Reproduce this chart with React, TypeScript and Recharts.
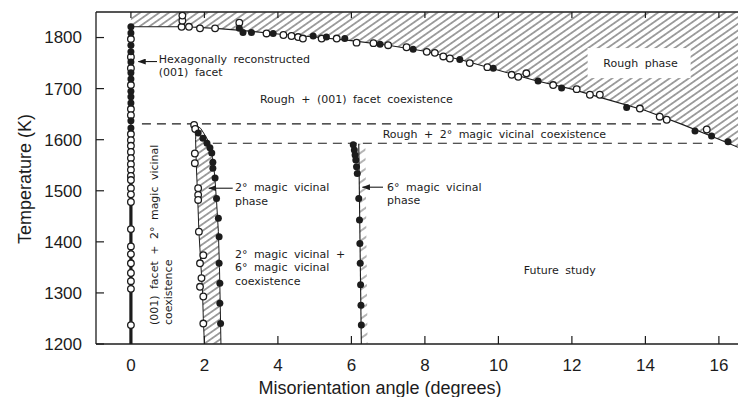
import React from 'react';
import { ScatterChart, Scatter, XAxis, YAxis, ReferenceLine, ReferenceDot } from 'recharts';

const W = 738;
const H = 397;
const TOP = 12;
const X_AXIS_H = 53;
const Y_AXIS_W = 96;
const PLOT_H = H - TOP - X_AXIS_H;
const INK = '#1c1c1c';
const NUM_FONT = '"Liberation Sans", Arial, sans-serif';
const NOTE_FONT = '"DejaVu Sans", sans-serif';

const xTicks = [0, 2, 4, 6, 8, 10, 12, 14, 16];
const tTicks = [1200, 1300, 1400, 1500, 1600, 1700, 1800];

// (001) facet column at 0 degrees
const facetOpenT = [1797, 1762, 1740, 1707, 1660, 1648, 1611, 1599, 1588, 1576, 1564, 1552, 1541, 1529,
  1521, 1505, 1493, 1478, 1425, 1391, 1376, 1358, 1339, 1323, 1308, 1237];
const facetFilledT = [1821, 1809, 1785, 1772, 1752, 1731, 1719, 1695, 1684, 1672, 1637, 1623];

// roughening transition points [angle, T]
const roughOpen = [[1.38, 1821], [1.4, 1833], [1.4, 1843], [1.58, 1821], [1.88, 1818], [2.29, 1818], [2.95, 1829],
  [3.69, 1808], [4.15, 1805], [4.37, 1803], [4.55, 1801], [4.68, 1798], [5.19, 1798], [5.6, 1798], [6.14, 1790],
  [6.6, 1789], [7.0, 1785], [7.5, 1781], [8.05, 1772], [8.27, 1770], [8.5, 1763], [8.68, 1759], [9.22, 1750],
  [9.7, 1742], [10.36, 1727], [10.54, 1723], [10.76, 1730], [11.49, 1707], [12.13, 1699], [12.49, 1688],
  [12.76, 1688], [13.85, 1661], [14.39, 1645], [14.58, 1639], [15.67, 1620]];
const roughFilled = [[2.95, 1818], [3.05, 1810], [3.28, 1810], [3.87, 1808], [4.96, 1803], [5.32, 1801], [5.82, 1798],
  [6.78, 1787], [7.68, 1777], [8.95, 1757], [9.86, 1740], [11.08, 1715], [11.72, 1701], [13.49, 1663],
  [15.35, 1617], [15.8, 1607], [16.25, 1596]];
const roughCurve = [[0, 1821], [1.5, 1821], [2.3, 1818], [3, 1814], [4, 1807], [5, 1801], [6, 1794], [7, 1785],
  [8, 1773], [9, 1756], [10, 1736], [11, 1716], [12, 1699], [13, 1678], [14, 1657], [15, 1630], [16, 1601],
  [16.52, 1585]];

// 2 degree magic vicinal
const vic2Open = [[1.72, 1629], [1.75, 1621], [1.74, 1573], [1.74, 1554], [1.83, 1505], [1.83, 1492], [1.83, 1482],
  [1.85, 1420], [1.97, 1374], [1.88, 1358], [1.92, 1329], [1.88, 1312], [1.97, 1293], [1.97, 1240]];
const vic2Filled = [[1.83, 1613], [1.96, 1603], [2.07, 1593], [2.15, 1584], [2.2, 1574], [2.23, 1556], [2.23, 1544],
  [2.29, 1525], [2.33, 1485], [2.38, 1446], [2.4, 1410], [2.4, 1358], [2.42, 1319], [2.42, 1280], [2.44, 1240]];
const vic2Band = [[2.0, 1200], [1.97, 1250], [1.95, 1300], [1.9, 1360], [1.85, 1420], [1.82, 1480], [1.78, 1550],
  [1.76, 1600], [1.78, 1628], [1.9, 1622], [2.05, 1605], [2.15, 1590], [2.22, 1565], [2.28, 1530], [2.33, 1480],
  [2.38, 1420], [2.41, 1350], [2.43, 1280], [2.45, 1200]];

// 6 degree magic vicinal
const vic6Filled = [[6.05, 1590], [6.08, 1580], [6.1, 1570], [6.12, 1560], [6.14, 1547], [6.16, 1534], [6.2, 1485],
  [6.22, 1443], [6.23, 1397], [6.24, 1358], [6.25, 1316], [6.26, 1276], [6.27, 1237]];
const vic6Edge = [[6.27, 1200], [6.2, 1592]];
const vic6Band = [[6.27, 1200], [6.2, 1592], [6.38, 1592], [6.44, 1200]];

// dashed coexistence limits [x1, x2, T]
const dashed = [[0.3, 14.5, 1631], [2.23, 15.84, 1593]];

const toPts = (a: number[][]) => a.map(([x, t]) => ({ x, t }));
const roughRegion = toPts([[0, 1850], ...roughCurve, [16.52, 1850]]);

const notes = [
  { x: 0.76, t: 1757, lines: ['Hexagonally reconstructed', '(001) facet'], gap: 12.5 },
  { x: 3.51, t: 1680, lines: ['Rough + (001) facet coexistence'] },
  { x: 6.85, t: 1611, lines: ['Rough + 2\u00b0 magic vicinal coexistence'] },
  { x: 13.87, t: 1750, lines: ['Rough phase'], anchor: 'middle', box: [-53, -15, 103, 30] },
  { x: 2.83, t: 1507, lines: ['2\u00b0 magic vicinal', 'phase'] },
  { x: 2.83, t: 1376, lines: ['2\u00b0 magic vicinal +', '6\u00b0 magic vicinal', 'coexistence'] },
  { x: 6.97, t: 1508, lines: ['6\u00b0 magic vicinal', 'phase'] },
  { x: 11.67, t: 1345, lines: ['Future study'], anchor: 'middle' },
  { x: 0.62, t: 1237, lines: ['(001) facet + 2\u00b0 magic vicinal', 'coexistence'], rotate: -90, gap: 14 },
];
const arrows = [[0.71, 0.2, 1753], [2.77, 2.12, 1505], [6.86, 6.3, 1507]];

const noDot = () => <g />;
const openDot = (p: any) => <circle cx={p.cx} cy={p.cy} r={3.3} fill="#fff" stroke={INK} strokeWidth={1.3} />;
const filledDot = (p: any) => <circle cx={p.cx} cy={p.cy} r={3.5} fill={INK} />;

function Note({ cx = 0, cy = 0, lines, anchor = 'start', rotate = 0, gap = 13.5, box }: any) {
  return (
    <g transform={rotate ? `rotate(${rotate} ${cx} ${cy})` : undefined}>
      {box && <rect x={cx + box[0]} y={cy + box[1]} width={box[2]} height={box[3]} fill="#fff" />}
      {lines.map((s: string, i: number) => (
        <text key={i} x={cx} y={cy + i * gap} dy="0.35em" textAnchor={anchor} fontFamily={NOTE_FONT}
          fontSize={11} wordSpacing={3} fill={INK}>{s}</text>
      ))}
    </g>
  );
}

const X_MARGIN = 21;
function XTick(props: any) {
  const { x, y, payload } = props;
  const axisY = y - X_MARGIN;
  return (
    <g>
      <line x1={x} x2={x} y1={axisY} y2={axisY - 8} stroke={INK} strokeWidth={1.2} />
      <line x1={x} x2={x} y1={axisY - PLOT_H} y2={axisY - PLOT_H + 6} stroke={INK} strokeWidth={1.2} />
      <text x={x} y={y} dy="0.35em" textAnchor="middle" fontFamily={NUM_FONT} fontSize={17} fill={INK}>
        {payload.value}
      </text>
    </g>
  );
}

const Y_MARGIN = 14;
function YTick(props: any) {
  const { x, y, payload } = props;
  const axisX = x + Y_MARGIN;
  return (
    <g>
      <line x1={axisX} x2={axisX + 8} y1={y} y2={y} stroke={INK} strokeWidth={1.2} />
      <text x={x} y={y} dy="0.35em" textAnchor="end" fontFamily={NUM_FONT} fontSize={17} fill={INK}>
        {payload.value}
      </text>
    </g>
  );
}

export default function App() {
  return (
    <div style={{ position: 'absolute', left: 0, top: 0, width: W, height: H, background: '#fff' }}>
      <ScatterChart width={W} height={H} margin={{ top: TOP, right: 0, bottom: 0, left: 0 }}>
        <defs>
          <pattern id="hatch" patternUnits="userSpaceOnUse" width="5.5" height="5.5" patternTransform="rotate(55)">
            <line x1="2.75" y1="0" x2="2.75" y2="5.5" stroke="#333" strokeWidth="0.9" />
          </pattern>
          <pattern id="hatchSparse" patternUnits="userSpaceOnUse" width="8" height="8" patternTransform="rotate(55)">
            <line x1="4" y1="0" x2="4" y2="8" stroke="#444" strokeWidth="0.8" />
          </pattern>
          <marker id="arrowHead" markerWidth="8" markerHeight="6" refX="7.5" refY="3" orient="auto"
            markerUnits="userSpaceOnUse">
            <path d="M0,0 L8,3 L0,6 Z" fill={INK} />
          </marker>
        </defs>
        <XAxis type="number" dataKey="x" domain={[-0.95, 16.52]} allowDataOverflow ticks={xTicks} height={X_AXIS_H}
          tickSize={0} tickMargin={X_MARGIN} tickLine={false} tick={<XTick />} axisLine={{ stroke: INK, strokeWidth: 1.3 }} />
        <YAxis type="number" dataKey="t" domain={[1200, 1850]} allowDataOverflow ticks={tTicks} width={Y_AXIS_W}
          tickSize={0} tickMargin={Y_MARGIN} tickLine={false} tick={<YTick />} axisLine={{ stroke: INK, strokeWidth: 1.3 }} />

        <ReferenceLine y={1850} stroke={INK} strokeWidth={1.3} />

        <Scatter data={roughRegion} shape={noDot} line={{ stroke: 'none', fill: 'url(#hatch)' }} isAnimationActive={false} />
        <Scatter data={toPts(vic6Band)} shape={noDot} line={{ stroke: 'none', fill: 'url(#hatchSparse)' }} isAnimationActive={false} />
        <Scatter data={toPts(vic2Band)} shape={noDot} line={{ stroke: INK, strokeWidth: 1, fill: 'url(#hatch)' }} isAnimationActive={false} />
        <Scatter data={toPts(roughCurve)} shape={noDot} line={{ stroke: INK, strokeWidth: 1.1 }} isAnimationActive={false} />
        <Scatter data={toPts(vic6Edge)} shape={noDot} line={{ stroke: INK, strokeWidth: 1.1 }} isAnimationActive={false} />

        <ReferenceLine segment={[{ x: 0, y: 1200 }, { x: 0, y: 1535 }]} stroke={INK} strokeWidth={3.2} />
        <ReferenceLine segment={[{ x: 0, y: 1535 }, { x: 0, y: 1821 }]} stroke={INK} strokeWidth={1.2} />
        {dashed.map(([x1, x2, t], i) => (
          <ReferenceLine key={'d' + i} segment={[{ x: x1, y: t }, { x: x2, y: t }]} stroke={INK} strokeWidth={1.1}
            strokeDasharray="9 6" />
        ))}
        {arrows.map(([x1, x2, t], i) => (
          <ReferenceLine key={'a' + i} segment={[{ x: x1, y: t }, { x: x2, y: t }]} stroke={INK} strokeWidth={1.1}
            markerEnd="url(#arrowHead)" />
        ))}

        <Scatter data={facetOpenT.map((t) => ({ x: 0, t }))} shape={openDot} isAnimationActive={false} />
        <Scatter data={facetFilledT.map((t) => ({ x: 0, t }))} shape={filledDot} isAnimationActive={false} />
        <Scatter data={toPts(roughOpen)} shape={openDot} isAnimationActive={false} />
        <Scatter data={toPts(roughFilled)} shape={filledDot} isAnimationActive={false} />
        <Scatter data={toPts(vic2Open)} shape={openDot} isAnimationActive={false} />
        <Scatter data={toPts(vic2Filled)} shape={filledDot} isAnimationActive={false} />
        <Scatter data={toPts(vic6Filled)} shape={filledDot} isAnimationActive={false} />

        {notes.map((n, i) => (
          <ReferenceDot key={'n' + i} x={n.x} y={n.t} r={0} ifOverflow="visible"
            shape={(p: any) => <Note cx={p.cx} cy={p.cy} {...n} />} />
        ))}
      </ScatterChart>
      <svg width={W} height={H} style={{ position: 'absolute', left: 0, top: 0, pointerEvents: 'none' }}>
        <text x={380} y={388} dy="0.35em" textAnchor="middle" fontFamily={NUM_FONT} fontSize={18} fill={INK}>
          Misorientation angle (degrees)
        </text>
        <text transform="translate(25,179) rotate(-90)" dy="0.35em" textAnchor="middle" fontFamily={NUM_FONT}
          fontSize={18} fill={INK}>
          Temperature (K)
        </text>
      </svg>
    </div>
  );
}
